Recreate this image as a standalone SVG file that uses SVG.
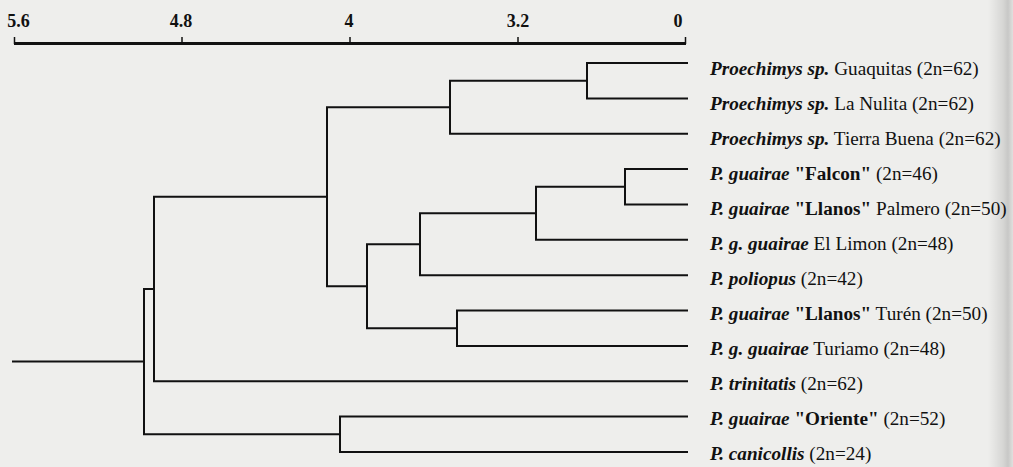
<svg xmlns="http://www.w3.org/2000/svg" width="1013" height="467" viewBox="0 0 1013 467">
<defs>
<linearGradient id="edge" x1="0" y1="0" x2="1" y2="0">
<stop offset="0" stop-color="#000" stop-opacity="0"/>
<stop offset="0.6" stop-color="#000" stop-opacity="0.10"/>
<stop offset="0.8" stop-color="#000" stop-opacity="0.16"/>
<stop offset="1" stop-color="#000" stop-opacity="0.06"/>
</linearGradient>
</defs>
<style>
.lbl{font-family:"Liberation Serif","Times New Roman",serif;font-size:19.2px;fill:#111}
.bi{font-weight:bold;font-style:italic}
.b{font-weight:bold}
.ax{font-family:"Liberation Serif","Times New Roman",serif;font-size:18px;font-weight:bold;fill:#111;text-anchor:middle}
.br{fill:none;stroke:#111;stroke-width:2;stroke-linecap:square}
.bar{fill:none;stroke:#111;stroke-width:3}
.tk{fill:none;stroke:#111;stroke-width:1.5}
</style>
<rect width="1013" height="467" fill="#eeeeec"/>
<rect x="988" y="0" width="25" height="467" fill="url(#edge)"/>
<g id="scale">
<line class="bar" x1="14" y1="43.5" x2="686" y2="43.5"/>
<line class="tk" x1="14.5" y1="37" x2="14.5" y2="44"/>
<line class="tk" x1="182" y1="37" x2="182" y2="44"/>
<line class="tk" x1="350" y1="37" x2="350" y2="44"/>
<line class="tk" x1="518" y1="37" x2="518" y2="44"/>
<line class="tk" x1="685.5" y1="37" x2="685.5" y2="44"/>
<text class="ax" x="18.5" y="27">5.6</text>
<text class="ax" x="181" y="27">4.8</text>
<text class="ax" x="349" y="27">4</text>
<text class="ax" x="518" y="27">3.2</text>
<text class="ax" x="678" y="27">0</text>
</g>
<g id="connectors">
<path class="br" d="M587 63H687M587 98.4H687M587 63V98.4"/>
<path class="br" d="M450 80.7H587M450 133.7H687M450 80.7V133.7"/>
<path class="br" d="M625 169.1H687M625 204.4H687M625 169.1V204.4"/>
<path class="br" d="M536 186.8H625M536 239.8H687M536 186.8V239.8"/>
<path class="br" d="M420 213.3H536M420 275.2H687M420 213.3V275.2"/>
<path class="br" d="M457 310.5H687M457 345.9H687M457 310.5V345.9"/>
<path class="br" d="M367 244.2H420M367 328.2H457M367 244.2V328.2"/>
<path class="br" d="M327 107.2H450M327 286.2H367M327 107.2V286.2"/>
<path class="br" d="M154 196.7H327M154 381.2H687M154 196.7V381.2"/>
<path class="br" d="M340 416.6H687M340 452H687M340 416.6V452"/>
<path class="br" d="M144 289H154M144 434.3H340M144 289V434.3"/>
<path class="br" d="M13 361.6H144"/>
</g>
<g id="leaf1"><text class="lbl" x="710" y="75"><tspan class="bi">Proechimys sp.</tspan> Guaquitas (2n=62)</text></g>
<g id="leaf2"><text class="lbl" x="710" y="110"><tspan class="bi">Proechimys sp.</tspan> La Nulita (2n=62)</text></g>
<g id="leaf3"><text class="lbl" x="710" y="145"><tspan class="bi">Proechimys sp.</tspan> Tierra Buena (2n=62)</text></g>
<g id="leaf4"><text class="lbl" x="710" y="180"><tspan class="bi">P. guairae</tspan> <tspan class="b">"Falcon"</tspan> (2n=46)</text></g>
<g id="leaf5"><text class="lbl" x="710" y="215"><tspan class="bi">P. guairae</tspan> <tspan class="b">"Llanos"</tspan> Palmero (2n=50)</text></g>
<g id="leaf6"><text class="lbl" x="710" y="250"><tspan class="bi">P. g. guairae</tspan> El Limon (2n=48)</text></g>
<g id="leaf7"><text class="lbl" x="710" y="285"><tspan class="bi">P. poliopus</tspan> (2n=42)</text></g>
<g id="leaf8"><text class="lbl" x="710" y="320"><tspan class="bi">P. guairae</tspan> <tspan class="b">"Llanos"</tspan> Turén (2n=50)</text></g>
<g id="leaf9"><text class="lbl" x="710" y="355"><tspan class="bi">P. g. guairae</tspan> Turiamo (2n=48)</text></g>
<g id="leaf10"><text class="lbl" x="710" y="390"><tspan class="bi">P. trinitatis</tspan> (2n=62)</text></g>
<g id="leaf11"><text class="lbl" x="710" y="425"><tspan class="bi">P. guairae</tspan> <tspan class="b">"Oriente"</tspan> (2n=52)</text></g>
<g id="leaf12"><text class="lbl" x="710" y="460"><tspan class="bi">P. canicollis</tspan> (2n=24)</text></g>
</svg>
